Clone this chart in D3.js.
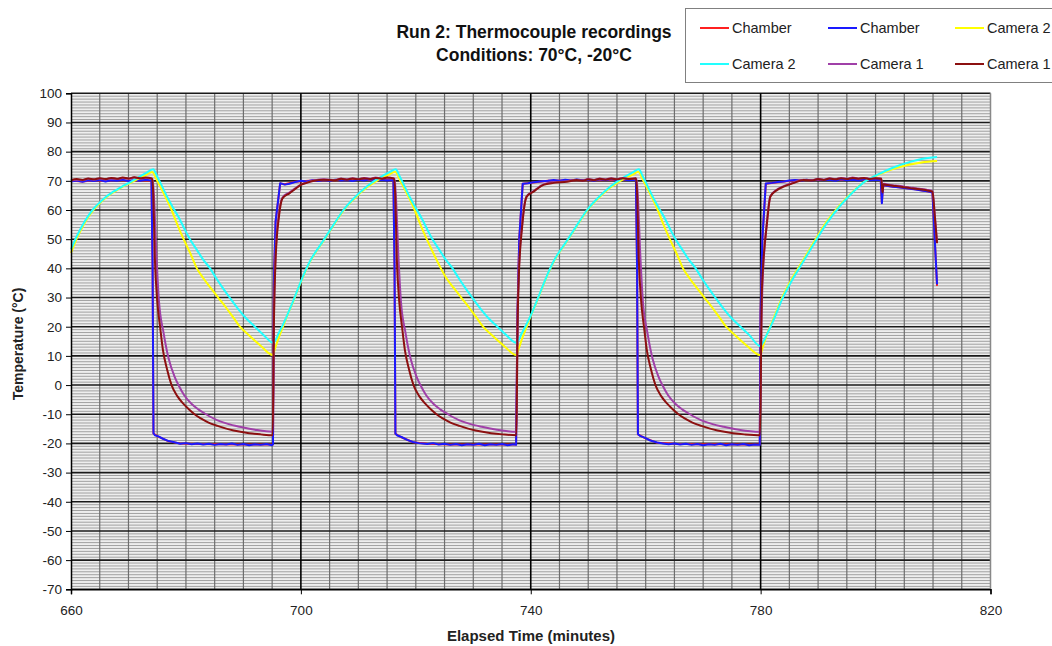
<!DOCTYPE html>
<html>
<head>
<meta charset="utf-8">
<script src="https://cdn.jsdelivr.net/npm/d3@7"></script>
<style>
  html, body { margin: 0; padding: 0; background: #fff; }
  svg { display: block; font-family: Arial, "Liberation Sans", sans-serif; }
</style>
</head>
<body>
<svg id="chart" width="1052" height="646"></svg>
<script>
/* Axis ticks */
const xTicks = [660, 700, 740, 780, 820];
const yTicks = [100, 90, 80, 70, 60, 50, 40, 30, 20, 10, 0, -10, -20, -30, -40, -50, -60, -70];

const titleLines = ['Run 2: Thermocouple recordings', 'Conditions: 70°C, -20°C'];

/* Chamber, red trace: [minutes, °C] */
const chamberRed = [
  [660, 70.1], [662, 69.8], [664, 70.2], [666, 69.9], [668, 70.3], [670, 70.0], [672, 70.2], [674.0, 70.0],
  [674.2, 40], [674.35, -16.6], [675.2, -17.7], [677, -19.3], [679, -20.0], [682, -20.2], [686, -20.3],
  [690, -20.4], [694, -20.4], [695.15, -20.4], [695.3, 35], [695.6, 56], [696.4, 69.1], [697.2, 68.8],
  [699, 69.7], [702, 70.1], [706, 70.2], [710, 70.3], [714, 70.3], [716.1, 70.2],
  [716.3, 40], [716.45, -16.7], [717.5, -17.9], [719.5, -19.6], [722, -20.1], [726, -20.4], [730, -20.4],
  [734, -20.4], [737.45, -20.4], [737.7, 25], [738.0, 50], [738.6, 69.0], [740.5, 69.4], [743, 70.0],
  [747, 70.2], [751, 70.2], [755, 70.3], [758.3, 70.3],
  [758.5, 40], [758.65, -16.9], [759.8, -18.1], [762, -19.8], [765, -20.1], [769, -20.3], [773, -20.3],
  [777, -20.4], [779.85, -20.4], [780.0, 25], [780.3, 50], [780.9, 69.0], [783, 69.5], [786, 70.2],
  [790, 70.3], [794, 70.3], [798, 70.4], [800.9, 70.3], [801.1, 62.6], [801.3, 68.4], [804, 67.8],
  [807, 67.1], [809.9, 66.1], [810.3, 50], [810.7, 34.0]
];

/* Chamber, blue trace */
const chamberBlue = [
  [660, 69.8], [661, 70.1], [662, 69.7], [663, 70.2], [664, 69.9], [665, 70.3], [666, 69.8], [667, 70.2],
  [668, 70.0], [669, 70.4], [670, 69.9], [671, 70.3], [672, 70.0], [673, 70.4], [674.0, 70.1],
  [674.2, 40], [674.35, -16.5], [674.6, -17.2], [675.2, -17.6], [676, -18.4], [677, -19.2], [678, -19.6],
  [679, -20.1], [680, -19.9], [681, -20.3], [682, -20.0], [683, -20.4], [684, -20.1], [685, -20.5],
  [686, -20.2], [687, -20.4], [688, -20.0], [689, -20.5], [690, -20.2], [691, -20.6], [692, -20.3],
  [693, -20.5], [694, -20.2], [695, -20.6], [695.15, -20.3],
  [695.3, 35], [695.6, 56], [696.4, 69.2], [697.2, 68.7], [698, 69.0], [699, 69.6], [700, 70.0],
  [701, 69.8], [702, 70.2], [703, 69.9], [704, 70.3], [705, 70.0], [706, 70.4], [707, 70.1], [708, 70.3],
  [709, 69.9], [710, 70.4], [711, 70.1], [712, 70.5], [713, 70.2], [714, 70.4], [715, 70.1], [716.1, 70.3],
  [716.3, 40], [716.45, -16.6], [716.8, -17.3], [717.5, -17.8], [718.5, -18.8], [719.5, -19.5],
  [720.5, -19.9], [722, -20.2], [723, -19.9], [724, -20.4], [725, -20.1], [726, -20.5], [727, -20.2],
  [728, -20.6], [729, -20.3], [730, -20.5], [731, -20.1], [732, -20.6], [733, -20.3], [734, -20.5],
  [735, -20.2], [736, -20.6], [737, -20.3], [737.45, -20.5],
  [737.7, 25], [738.0, 50], [738.6, 69.0], [739.5, 69.2], [740.5, 69.5], [741.6, 69.8], [743, 70.0],
  [744, 70.3], [745, 70.0], [746, 70.4], [747, 70.1], [748, 70.5], [749, 70.2], [750, 70.4], [751, 70.0],
  [752, 70.5], [753, 70.2], [754, 70.6], [755, 70.3], [756, 70.5], [757, 70.2], [758.3, 70.4],
  [758.5, 40], [758.65, -16.8], [759, -17.4], [759.8, -18.0], [760.8, -19.0], [762, -19.7], [763, -20.0],
  [764, -20.3], [765, -20.0], [766, -20.4], [767, -20.1], [768, -20.5], [769, -20.2], [770, -20.6],
  [771, -20.3], [772, -20.5], [773, -20.1], [774, -20.6], [775, -20.3], [776, -20.5], [777, -20.2],
  [778, -20.6], [779, -20.4], [779.85, -20.5],
  [780.0, 25], [780.3, 50], [780.9, 69.1], [782, 69.3], [783, 69.6], [784, 69.8], [785, 70.1], [786, 70.3],
  [787, 70.0], [788, 70.4], [789, 70.1], [790, 70.5], [791, 70.2], [792, 70.4], [793, 70.0], [794, 70.5],
  [795, 70.2], [796, 70.4], [797, 70.1], [798, 70.5], [799, 70.2], [800, 70.4], [800.9, 70.3],
  [801.1, 62.3], [801.3, 68.5], [802, 68.3], [803, 68.0], [804, 67.8], [805, 67.5], [806, 67.3],
  [807, 67.0], [808, 66.7], [809, 66.4], [809.9, 66.0], [810.3, 50], [810.7, 34.5]
];

/* Camera 2, yellow trace */
const camera2Yellow = [
  [660, 45.3], [661, 50.2], [662, 54.2], [663, 57.5], [664, 60.2], [665, 62.3], [666, 64.1], [667, 65.6],
  [668, 66.8], [669, 68.0], [670, 69.0], [671, 70.0], [672, 71.0], [673, 72.0], [674.1, 73.0],
  [675, 70], [676, 66.2], [677.5, 60], [678.5, 55], [679.6, 50], [680.8, 45], [681.9, 40], [683, 36.7],
  [684.3, 33.3], [685.6, 30], [687, 26.5], [688.3, 23], [689.4, 20], [691, 17], [693, 13.5], [695.1, 10.3],
  [695.5, 12.5], [696.2, 16.5], [697, 20.5], [697.5, 23.2], [698.7, 28.8], [700.1, 35.8], [701.6, 42.3],
  [703.9, 49.3], [705.7, 54.8], [707.4, 59.8], [709.2, 63.7], [711.4, 67.6], [713.2, 70], [715.5, 72.3],
  [716.4, 73.1],
  [717.3, 70], [718.3, 66.2], [719.8, 60], [720.8, 55], [721.9, 50], [723.1, 45], [724.2, 40.6],
  [725.3, 36.7], [726.6, 33.3], [727.9, 30], [729.3, 26.5], [730.6, 23], [731.7, 20], [733.3, 17],
  [735.3, 13.5], [737.5, 10.3],
  [737.9, 12.5], [738.6, 16.5], [739.4, 20.5], [739.9, 23.2], [741.1, 28.8], [742.5, 35.8], [744, 42.3],
  [746.3, 49.3], [748.1, 54.8], [749.8, 59.8], [751.6, 63.7], [753.8, 67.6], [755.6, 70], [757.9, 72.3],
  [758.7, 73.1],
  [759.6, 70], [760.6, 66.2], [762.1, 60], [763.1, 55], [764.2, 50], [765.4, 45], [766.5, 40],
  [767.6, 36.7], [768.9, 33.3], [770.2, 30], [771.6, 26.5], [772.9, 23], [774, 20], [775.6, 17],
  [777.6, 13.5], [779.9, 10.3],
  [780.3, 12.5], [781, 16.8], [782.3, 23], [783.7, 29.8], [785.2, 35.6], [786.9, 41.2], [789, 48.1],
  [791.5, 56], [794, 62.2], [796, 66.2], [798.3, 70], [800, 71.6], [803, 74], [806, 75.6], [808, 76.3],
  [810.7, 76.8]
];

/* Camera 2, cyan trace */
const camera2Cyan = [
  [660, 46.5], [661, 51], [662, 54.8], [663, 58], [664, 60.6], [665, 62.6], [666, 64.4], [667, 65.8],
  [668, 67.0], [669, 68.2], [670, 69.2], [671, 70.4], [672, 71.5], [673, 72.6], [674.3, 74.0],
  [675, 71.5], [676, 67.5], [677, 63.5], [678, 60], [679, 56.5], [680, 52.5], [680.7, 50], [682, 46],
  [683, 43], [684.2, 40], [685.3, 36.5], [686.4, 33.3], [687.6, 30], [689, 26.3], [690.5, 22.8], [692, 20],
  [693.5, 17.2], [695.2, 14.5],
  [696.2, 18], [697.5, 23.4], [698.7, 29], [700.1, 36], [701.6, 42.5], [703.9, 49.5], [705.7, 55],
  [707.4, 60], [709.2, 64], [711.4, 68], [713.2, 70.5], [715.5, 73.1], [716.5, 74.0],
  [717.2, 71.5], [718.2, 67.5], [719.2, 63.5], [720.2, 60], [721.2, 56.5], [722.2, 52.5], [722.9, 50],
  [724.2, 46], [725.2, 43], [726.4, 40], [727.5, 36.5], [728.6, 33.3], [729.8, 30], [731.2, 26.3],
  [732.7, 22.8], [734.2, 20], [735.7, 17.2], [737.5, 14.5],
  [738.5, 18], [739.9, 23.4], [741.1, 29], [742.5, 36], [744, 42.5], [746.3, 49.5], [748.1, 55],
  [749.8, 60], [751.6, 64], [753.8, 68], [755.6, 70.5], [757.9, 73.1], [758.8, 74.0],
  [759.5, 71.5], [760.5, 67.5], [761.5, 63.5], [762.5, 60], [763.5, 56.5], [764.5, 52.5], [765.2, 50],
  [766.5, 46], [767.5, 43], [768.7, 40], [769.8, 36.5], [770.9, 33.3], [772.1, 30], [773.5, 26.3],
  [775, 22.8], [776.5, 20], [778, 17.2], [779.9, 13.4],
  [781, 17], [782.3, 22.5], [783.7, 29.2], [785.2, 35], [786.9, 40.6], [789, 47.5], [791.5, 55.4],
  [794, 61.8], [796, 66], [798.3, 70], [800, 71.8], [803, 74.5], [806, 76.5], [808, 77.5], [810.7, 78.2]
];

/* Camera 1, purple trace */
const camera1Purple = [
  [660, 70.0], [661, 70.4], [662, 70.2], [663, 70.7], [664, 70.4], [665, 70.8], [666, 70.5], [667, 70.9],
  [668, 70.6], [669, 71.0], [670, 70.7], [671, 71.1], [672, 70.8], [673, 71.0], [674.2, 70.6],
  [674.4, 66], [674.9, 43], [675.3, 29], [676.1, 18], [677, 9], [678, 3], [678.7, 0], [679.7, -3.5],
  [681, -6.5], [682.2, -8.4], [683.5, -10], [685.4, -12], [687.3, -13.3], [689.4, -14.3], [692, -15.3],
  [695.1, -16],
  [695.3, 22], [695.6, 45], [696.2, 59], [696.8, 64.3], [698, 66], [699, 67.4], [700, 68.7], [701, 69.4],
  [702.3, 70.1], [704, 70.5], [706, 70.3], [707, 70.8], [708, 70.5], [709, 70.9], [710, 70.6], [711, 71.0],
  [712, 70.7], [713, 71.1], [714, 70.8], [715, 71.0], [716.3, 70.7],
  [716.5, 66], [717.0, 43], [717.4, 29], [718.2, 18], [719.1, 9], [720.1, 3], [720.8, 0], [721.8, -3.5],
  [723.1, -6.5], [724.3, -8.4], [725.6, -10], [727.5, -12], [729.4, -13.3], [731.5, -14.3],
  [734.1, -15.3], [737.5, -16],
  [737.7, 22], [737.9, 38], [738.5, 55], [739.3, 64.8], [740.5, 66.5], [742.2, 68.8], [744, 69.5],
  [746.3, 69.9], [748, 70.4], [749, 70.1], [750, 70.6], [751, 70.3], [752, 70.8], [753, 70.5],
  [754, 70.9], [755, 70.6], [756, 71.0], [757, 70.7], [758.4, 70.8],
  [758.6, 66], [759.1, 43], [759.5, 29], [760.3, 18], [761.2, 9], [762.2, 3], [762.9, 0], [763.9, -3.5],
  [765.2, -6.5], [766.4, -8.4], [767.7, -10], [769.6, -12], [771.5, -13.3], [773.6, -14.3],
  [776.2, -15.3], [779.9, -16],
  [780.1, 17], [780.3, 33], [781.1, 56], [781.7, 64.8], [782.9, 67.1], [784, 68.2], [785.7, 69.4],
  [787.5, 70.4], [789, 70.2], [790, 70.7], [791, 70.4], [792, 70.9], [793, 70.6], [794, 71.0],
  [795, 70.7], [796, 71.1], [797, 70.8], [798, 71.0], [799, 70.7], [800, 70.9], [801, 70.8],
  [801.2, 66.4], [801.4, 69.0], [802, 68.8], [803, 68.5], [804, 68.3], [805, 68.0], [806, 67.7],
  [807, 67.5], [808, 67.2], [809, 66.9], [809.9, 66.5], [810.3, 58.5], [810.7, 49.0]
];

/* Camera 1, dark red trace */
const camera1DarkRed = [
  [660, 70.2], [661, 70.6], [662, 70.3], [663, 70.8], [664, 70.5], [665, 70.9], [666, 70.6], [667, 71.0],
  [668, 70.7], [669, 71.1], [670, 70.8], [671, 71.2], [672, 70.9], [673, 71.1], [674.1, 70.8],
  [674.3, 66], [674.6, 43], [675.0, 29], [675.5, 20], [676.0, 12], [676.7, 5.5], [677.5, 0],
  [678.5, -3.8], [679.5, -6.3], [680.5, -8.3], [681.5, -10], [682.5, -11.3], [683.6, -12.5],
  [685.5, -14.0], [688.3, -15.6], [691, -16.5], [693, -16.9], [695.1, -17.2],
  [695.3, 20], [695.6, 43], [696.2, 58], [696.8, 64], [698, 65.7], [699, 67.2], [700, 68.6], [701, 69.3],
  [702.3, 70.0], [704, 70.4], [706, 70.2], [707, 70.7], [708, 70.4], [709, 70.8], [710, 70.5], [711, 70.9],
  [712, 70.6], [713, 71.0], [714, 70.7], [715, 71.1], [716.2, 70.8],
  [716.4, 66], [716.7, 43], [717.1, 29], [717.6, 20], [718.1, 12], [718.8, 5.5], [719.6, 0],
  [720.6, -3.8], [721.6, -6.3], [722.6, -8.3], [723.6, -10], [724.6, -11.3], [725.7, -12.5],
  [727.6, -14.0], [730.4, -15.6], [733.1, -16.5], [735.1, -16.9], [737.5, -17.2],
  [737.7, 20], [737.9, 36], [738.5, 54.3], [739.3, 64.6], [740.5, 66.3], [742.2, 68.6], [744, 69.3],
  [746.3, 69.7], [748, 70.3], [749, 70.0], [750, 70.5], [751, 70.2], [752, 70.7], [753, 70.4],
  [754, 70.8], [755, 70.5], [756, 70.9], [757, 70.6], [758.3, 70.9],
  [758.5, 66], [758.8, 43], [759.2, 29], [759.7, 20], [760.2, 12], [760.9, 5.5], [761.7, 0],
  [762.7, -3.8], [763.7, -6.3], [764.7, -8.3], [765.7, -10], [766.7, -11.3], [767.8, -12.5],
  [769.7, -14.0], [772.5, -15.6], [775.2, -16.5], [777.2, -16.9], [779.9, -17.2],
  [780.1, 15], [780.2, 31.5], [781.1, 55.4], [781.7, 64.6], [782.9, 66.9], [784, 68.0], [785.7, 69.2],
  [787.5, 70.3], [789, 70.1], [790, 70.6], [791, 70.3], [792, 70.8], [793, 70.5], [794, 70.9],
  [795, 70.6], [796, 71.0], [797, 70.7], [798, 71.0], [799, 70.6], [800, 70.9], [801, 70.7],
  [801.2, 66.0], [801.4, 68.8], [802, 68.6], [803, 68.3], [804, 68.1], [805, 67.8], [806, 67.5],
  [807, 67.3], [808, 67.0], [809, 66.7], [809.9, 66.3], [810.3, 58], [810.7, 48.6]
];

/* Series in drawing order (later ones on top), same order as the legend */
const series = [
  {name: 'Chamber', color: '#ff2020', data: chamberRed, smooth: false},
  {name: 'Chamber', color: '#1a1aff', data: chamberBlue, smooth: false},
  {name: 'Camera 2', color: '#ffff00', data: camera2Yellow, smooth: true},
  {name: 'Camera 2', color: '#22ffff', data: camera2Cyan, smooth: true},
  {name: 'Camera 1', color: '#a040a8', data: camera1Purple, smooth: true},
  {name: 'Camera 1', color: '#8c1010', data: camera1DarkRed, smooth: true},
];

/* Plot frame */
let plotLeft = 71, plotRight = 990.5, plotTop = 93.3, plotBottom = 589.3;
let fontFamily = 'Arial, "Liberation Sans", sans-serif';

let svgD3 = d3.select('#chart');

let x = d3.scaleLinear()
    .domain([660, 820])
    .range([plotLeft, plotRight]);
let y = d3.scaleLinear()
    .domain([-70, 100])
    .range([plotBottom, plotTop]);

/* Plot background */
svgD3.append('rect')
    .attr('x', plotLeft)
    .attr('y', plotTop)
    .attr('width', plotRight - plotLeft)
    .attr('height', plotBottom - plotTop)
    .attr('fill', '#eeeeee');

/* Grid Lines */
let gridD3 = svgD3.append('g')
    .attr('class', 'grid-lines');

gridD3.append('g')
    .attr('class', 'y-minor-grid')
    .selectAll('line')
    .data(d3.range(-70, 101, 1).filter(v => v % 10 !== 0))
    .join('line')
    .attr('x1', plotLeft)
    .attr('x2', plotRight)
    .attr('y1', d => y(d))
    .attr('y2', d => y(d))
    .attr('stroke', '#a0a0a0')
    .attr('stroke-width', 1);

gridD3.append('g')
    .attr('class', 'x-minor-grid')
    .selectAll('line')
    .data(d3.range(665, 820, 5).filter(v => xTicks.indexOf(v) < 0))
    .join('line')
    .attr('x1', d => x(d))
    .attr('x2', d => x(d))
    .attr('y1', plotTop)
    .attr('y2', plotBottom)
    .attr('stroke', '#6e6e6e')
    .attr('stroke-width', 1.2);

gridD3.append('g')
    .attr('class', 'y-major-grid')
    .selectAll('line')
    .data(yTicks)
    .join('line')
    .attr('x1', plotLeft)
    .attr('x2', plotRight)
    .attr('y1', d => y(d))
    .attr('y2', d => y(d))
    .attr('stroke', '#1a1a1a')
    .attr('stroke-width', 1.6);

gridD3.append('g')
    .attr('class', 'x-major-grid')
    .selectAll('line')
    .data(xTicks.slice(1, -1))
    .join('line')
    .attr('x1', d => x(d))
    .attr('x2', d => x(d))
    .attr('y1', plotTop)
    .attr('y2', plotBottom)
    .attr('stroke', '#000')
    .attr('stroke-width', 1.6);

/* Right border */
svgD3.append('line')
    .attr('x1', plotRight)
    .attr('x2', plotRight)
    .attr('y1', plotTop)
    .attr('y2', plotBottom)
    .attr('stroke', '#888')
    .attr('stroke-width', 1.5);

/* Data */
let dataD3 = svgD3.append('g')
    .attr('class', 'data-container-group');

for (let s of series) {
  let line = d3.line()
      .x(d => x(d[0]))
      .y(d => y(d[1]))
      .curve(s.smooth ? d3.curveMonotoneX : d3.curveLinear);
  dataD3.append('path')
      .datum(s.data)
      .attr('d', line)
      .attr('fill', 'none')
      .attr('stroke', s.color)
      .attr('stroke-width', 2)
      .attr('stroke-linejoin', 'round');
}

/* X Axis */
let xAxisD3 = svgD3.append('g')
    .attr('class', 'x-axis')
    .attr('transform', `translate(0,${plotBottom})`)
    .call(d3.axisBottom(x).tickValues(xTicks).tickSize(5).tickFormat(d => String(d)));
xAxisD3.select('.domain').attr('stroke', '#000').attr('stroke-width', 1.5);
xAxisD3.selectAll('.tick line').attr('stroke', '#000');
xAxisD3.selectAll('.tick text')
    .attr('y', 16)
    .attr('font-size', 13.5)
    .attr('font-family', fontFamily)
    .attr('fill', '#222');

/* Y Axis */
let yAxisD3 = svgD3.append('g')
    .attr('class', 'y-axis')
    .attr('transform', `translate(${plotLeft},0)`)
    .call(d3.axisLeft(y).tickValues(yTicks).tickSize(5).tickFormat(d => String(d)));
yAxisD3.select('.domain').attr('stroke', '#000').attr('stroke-width', 1.5);
yAxisD3.selectAll('.tick line').attr('stroke', '#000');
yAxisD3.selectAll('.tick text')
    .attr('x', -9)
    .attr('font-size', 13.5)
    .attr('font-family', fontFamily)
    .attr('fill', '#222');

/* Axis labels */
svgD3.append('text')
    .attr('x', 531)
    .attr('y', 641)
    .attr('text-anchor', 'middle')
    .attr('font-size', 15)
    .attr('font-weight', 'bold')
    .attr('fill', '#222')
    .text('Elapsed Time (minutes)');

svgD3.append('text')
    .attr('transform', 'translate(23,344) rotate(-90)')
    .attr('text-anchor', 'middle')
    .attr('font-size', 14)
    .attr('font-weight', 'bold')
    .attr('fill', '#222')
    .text('Temperature (°C)');

/* Title */
svgD3.append('g')
    .attr('class', 'title')
    .selectAll('text')
    .data(titleLines)
    .join('text')
    .attr('x', 534)
    .attr('y', (d, i) => 38 + i * 23)
    .attr('text-anchor', 'middle')
    .attr('font-size', 17.5)
    .attr('font-weight', 'bold')
    .attr('fill', '#111')
    .text(d => d);

/* Legend */
let legendD3 = svgD3.append('g')
    .attr('class', 'legend');

legendD3.append('rect')
    .attr('x', 685.5)
    .attr('y', 8.5)
    .attr('width', 420)
    .attr('height', 74)
    .attr('fill', '#fff')
    .attr('stroke', '#808080')
    .attr('stroke-width', 1);

let legendCols = [700, 828, 955];
let legendRows = [28, 64];

let itemsD3 = legendD3.selectAll('g.item')
    .data(series)
    .join('g')
    .attr('class', 'item')
    .attr('transform', (d, i) => `translate(${legendCols[i % 3]},${legendRows[Math.floor(i / 3)]})`);

itemsD3.append('line')
    .attr('x1', 0)
    .attr('x2', 29)
    .attr('stroke', d => d.color)
    .attr('stroke-width', 2);

itemsD3.append('text')
    .attr('x', 32)
    .attr('y', 5)
    .attr('font-size', 14.5)
    .attr('fill', '#222')
    .text(d => d.name);
</script>
</body>
</html>
